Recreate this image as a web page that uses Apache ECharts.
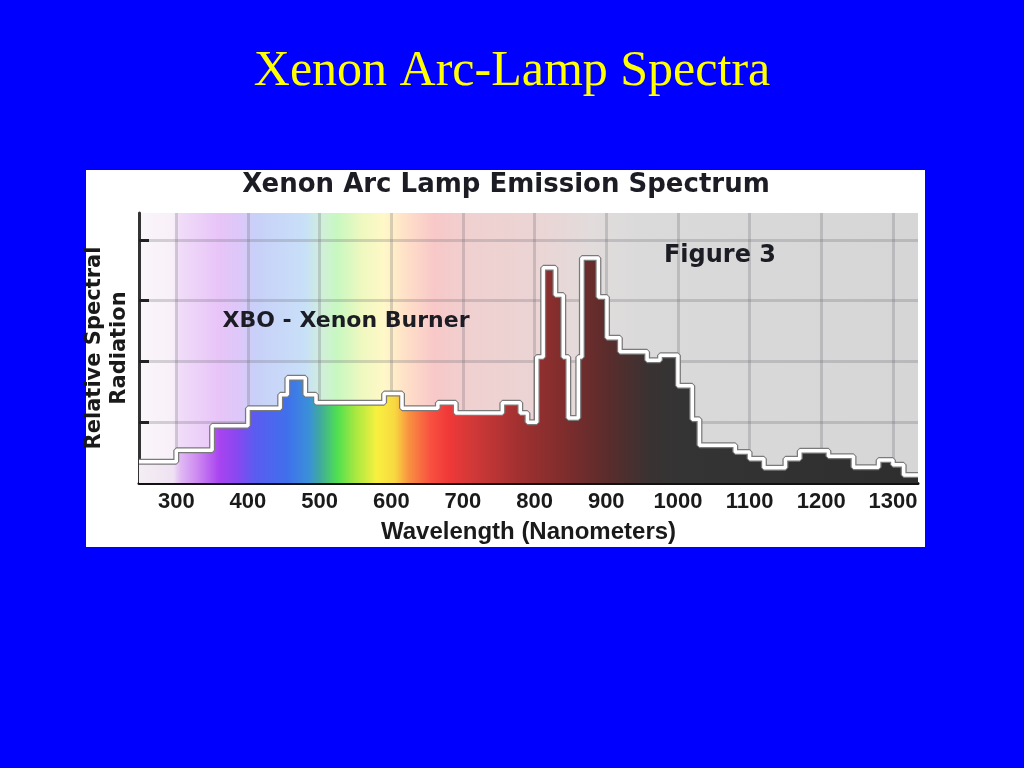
<!DOCTYPE html>
<html>
<head>
<meta charset="utf-8">
<script src="https://cdn.jsdelivr.net/npm/echarts@6/dist/echarts.min.js"></script>
<style>html,body{margin:0;padding:0;background:#0000ff;}#c{width:1024px;height:768px;}</style>
</head>
<body>
<div id="c"></div>
<script>
// Step spectrum: each value holds from its start wavelength to the next start
const stepStart = [248, 300, 350, 400, 445, 455, 480, 495, 590, 615, 665, 690, 755, 780, 790, 803, 812, 829, 840, 847, 861, 866, 889, 901, 919, 957, 975, 1000, 1020, 1030, 1080, 1100, 1120, 1150, 1170, 1210, 1245, 1280, 1300, 1315, 1335];
const radiation = [0.35, 0.54, 0.94, 1.23, 1.45, 1.73, 1.45, 1.32, 1.47, 1.23, 1.32, 1.15, 1.32, 1.15, 1.0, 2.07, 3.54, 3.09, 2.07, 1.07, 2.07, 3.7, 3.06, 2.39, 2.16, 2.02, 2.1, 1.6, 1.05, 0.62, 0.51, 0.4, 0.25, 0.4, 0.53, 0.44, 0.26, 0.38, 0.3, 0.13, 0.13];
const xTicks = [300, 400, 500, 600, 700, 800, 900, 1000, 1100, 1200, 1300];
const yTicks = [1, 2, 3, 4];
const xMin = 248, xMax = 1335;

const data = stepStart.map((x, i) => [x, radiation[i]]);

function grad(stops) {
  return new echarts.graphic.LinearGradient(0, 0, 1, 0,
    stops.map(s => ({ offset: Math.min(1, Math.max(0, (s[0] - xMin) / (xMax - xMin))), color: s[1] })));
}

const fillGrad = grad([
  [248, '#f4eef4'], [296, '#efe2f2'], [306, '#e0b8f4'], [330, '#cc88f0'], [360, '#a844f0'],
  [385, '#8848f0'], [410, '#5a5cf0'], [455, '#4070ec'], [485, '#3a90d8'], [500, '#40a8a0'],
  [525, '#50e050'], [550, '#a8e840'], [580, '#f8f040'], [605, '#f8d840'], [625, '#f89040'],
  [655, '#f85040'], [680, '#f03838'], [715, '#d03838'], [780, '#a03030'], [850, '#7a2c2c'],
  [900, '#5c2c2c'], [960, '#3a3232'], [1000, '#343434'], [1335, '#2e2e2e']
]);

const bgGrad = grad([
  [248, '#faf6fa'], [295, '#f8f0f8'], [305, '#f0dcf8'], [360, '#e8c4f8'], [390, '#dcc8f8'],
  [410, '#c8d0f8'], [480, '#c8e0f8'], [505, '#d0f0d8'], [525, '#c8f8c0'], [560, '#f0f8c0'],
  [590, '#fff8c8'], [620, '#ffe0c8'], [660, '#f8c8c8'], [710, '#f0d0d0'], [800, '#ecd4d4'],
  [880, '#e2dcdc'], [950, '#dadada'], [1335, '#d6d6d6']
]);

const chart = echarts.init(document.getElementById('c'));
chart.setOption({
  backgroundColor: '#0000ff',
  animation: false,
  graphic: [
    { type: 'rect', z: -10, shape: { x: 86, y: 170, width: 839, height: 377 }, style: { fill: '#ffffff' } },
    { type: 'text', z: 100, style: { text: 'Xenon Arc-Lamp Spectra', x: 512, y: 72, textAlign: 'center', textVerticalAlign: 'middle', font: '50px "Liberation Serif"', fill: '#ffff00' } },
    { type: 'text', z: 100, style: { text: 'Xenon Arc Lamp Emission Spectrum', x: 506, y: 185, textAlign: 'center', textVerticalAlign: 'middle', font: 'bold 26px "DejaVu Sans"', fill: '#1c1c24' } },
    { type: 'text', z: 100, style: { text: 'Figure 3', x: 720, y: 256, textAlign: 'center', textVerticalAlign: 'middle', font: 'bold 24px "DejaVu Sans"', fill: '#1c1c24' } },
    { type: 'text', z: 100, style: { text: 'XBO - Xenon Burner', x: 346, y: 321, textAlign: 'center', textVerticalAlign: 'middle', font: 'bold 22px "DejaVu Sans"', fill: '#1c1c24' } }
  ],
  grid: { left: 139, top: 213, right: 106, bottom: 285, show: true, backgroundColor: bgGrad, borderWidth: 0 },
  xAxis: {
    type: 'value', min: xMin, max: xMax,
    axisLine: { show: true, lineStyle: { color: '#111', width: 3 } },
    axisTick: { show: true, inside: true, length: 6, lineStyle: { color: '#111', width: 3 }, customValues: xTicks },
    axisLabel: { customValues: xTicks, formatter: v => String(v), fontFamily: 'Liberation Sans', fontWeight: 'bold', fontSize: 22, color: '#1a1a1a', margin: 8 },
    splitLine: { show: true, lineStyle: { color: 'rgba(110,110,120,0.28)', width: 3 } },
    name: 'Wavelength (Nanometers)', nameLocation: 'middle', nameGap: 37,
    nameTextStyle: { fontFamily: 'Liberation Sans', fontWeight: 'bold', fontSize: 24, color: '#1a1a1a' }
  },
  yAxis: {
    type: 'value', min: 0, max: 4.44,
    axisLine: { show: true, lineStyle: { color: '#333', width: 3 } },
    axisTick: { show: true, inside: true, length: 10, lineStyle: { color: '#222', width: 3 }, customValues: yTicks },
    axisLabel: { show: false },
    splitLine: { show: true, lineStyle: { color: 'rgba(110,110,120,0.28)', width: 3 } },
    name: 'Relative Spectral\nRadiation', nameLocation: 'middle', nameRotate: 90, nameGap: 7,
    nameTextStyle: { fontFamily: 'DejaVu Sans', fontWeight: 'bold', fontSize: 21, lineHeight: 25, color: '#1a1a1a', align: 'center' }
  },
  series: [
    {
      type: 'line', step: 'end', data: data, showSymbol: false, z: 2,
      lineStyle: { color: '#7a7a7a', width: 6 },
      areaStyle: { color: fillGrad, opacity: 1 }
    },
    {
      type: 'line', step: 'end', data: data, showSymbol: false, z: 3,
      lineStyle: { color: '#ffffff', width: 3.5 }
    }
  ]
});
</script>
</body>
</html>
